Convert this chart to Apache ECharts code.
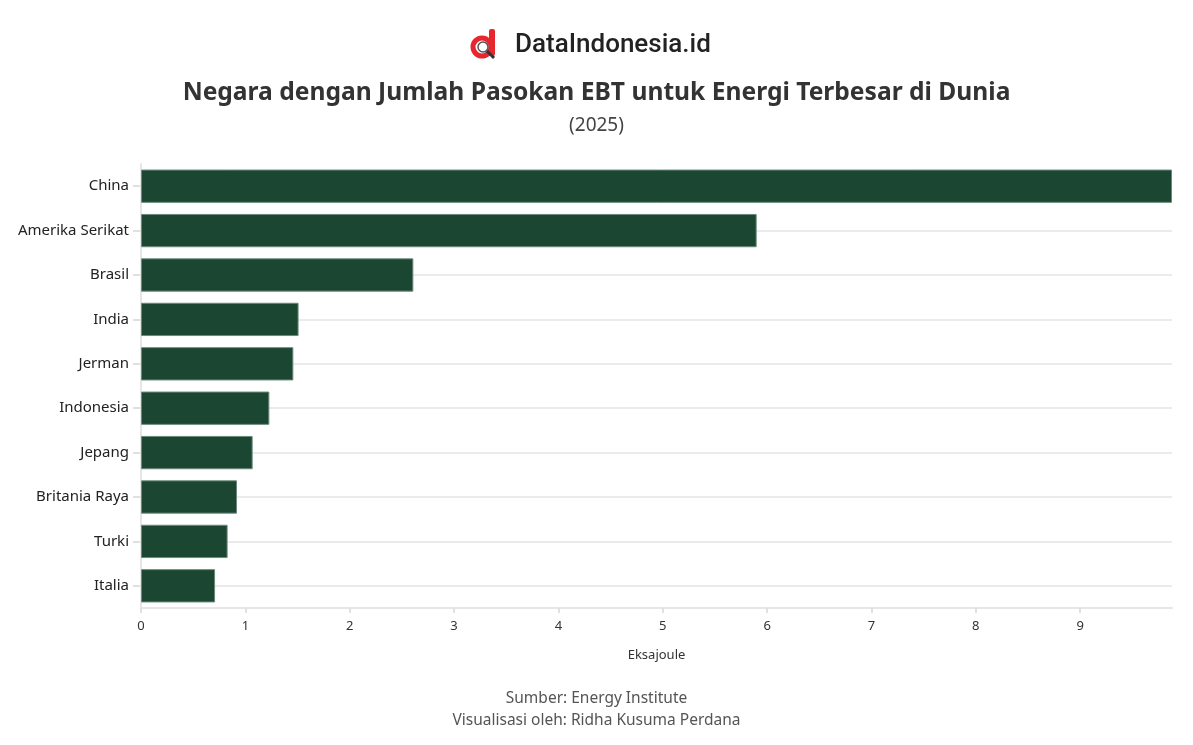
<!DOCTYPE html>
<html>
<head>
<meta charset="utf-8">
<script src="https://cdn.jsdelivr.net/npm/echarts@6/dist/echarts.min.js"></script>
<style>
  html, body { margin: 0; padding: 0; background: #fff; }
  #chart { width: 1193px; height: 745px; }
</style>
</head>
<body>
<div id="chart"></div>
<script>
const countries = ['China', 'Amerika Serikat', 'Brasil', 'India', 'Jerman', 'Indonesia', 'Jepang', 'Britania Raya', 'Turki', 'Italia'];
const supply = [9.88, 5.90, 2.61, 1.51, 1.46, 1.23, 1.07, 0.92, 0.83, 0.71];
const xTicks = [0, 1, 2, 3, 4, 5, 6, 7, 8, 9];

const font = '"Noto Sans", "Open Sans", sans-serif';
const chart = echarts.init(document.getElementById('chart'));

// footer lines, each centred on its own
const footText = (text, top) => ({
  type: 'text', left: 'center', top: top,
  style: { text: text, fontSize: 15.5, fill: '#555', fontFamily: font }
});

chart.setOption({
  backgroundColor: '#fff',
  textStyle: { fontFamily: font },
  title: [
    {
      text: 'Negara dengan Jumlah Pasokan EBT untuk Energi Terbesar di Dunia',
      left: 'center', top: 75,
      textStyle: { fontSize: 24.6, fontWeight: 'bold', color: '#333', fontFamily: font }
    },
    {
      text: '(2025)',
      left: 'center', top: 111,
      textStyle: { fontSize: 19, fontWeight: 'normal', color: '#444', fontFamily: font }
    }
  ],
  graphic: [
    { type: 'circle', shape: { cx: 482, cy: 47, r: 9 }, style: { fill: 'none', stroke: '#e8262d', lineWidth: 5 } },
    { type: 'rect', shape: { x: 489, y: 29, width: 6, height: 27, r: 2 }, style: { fill: '#e8262d' } },
    { type: 'circle', shape: { cx: 483, cy: 47, r: 5 }, style: { fill: '#fff', stroke: '#555', lineWidth: 1.5 } },
    { type: 'line', shape: { x1: 487, y1: 51, x2: 494, y2: 58 }, style: { stroke: '#333', lineWidth: 3 } },
    {
      type: 'text', left: 515, top: 32,
      style: { text: 'DataIndonesia.id', fontSize: 26, fontWeight: 500, fill: '#222', fontFamily: 'Roboto, sans-serif' }
    },
    footText('Sumber: Energy Institute', 691),
    footText('Visualisasi oleh: Ridha Kusuma Perdana', 713)
  ],
  grid: { left: 141, right: 21, top: 164, bottom: 137, containLabel: false },
  xAxis: {
    type: 'value',
    min: 0,
    max: 'dataMax',
    interval: 1,
    name: 'Eksajoule',
    nameLocation: 'middle',
    nameGap: 41,
    nameTextStyle: { fontSize: 13, color: '#333' },
    axisLine: { show: true, lineStyle: { color: '#e6e6e6', width: 2 } },
    axisTick: { show: true, length: 5, customValues: xTicks, lineStyle: { color: '#e0e0e0', width: 2 } },
    axisLabel: { fontSize: 13, color: '#333', margin: 12, customValues: xTicks },
    splitLine: { show: false }
  },
  yAxis: {
    type: 'category',
    data: countries,
    inverse: true,
    axisLine: { show: true, lineStyle: { color: '#e6e6e6', width: 2 } },
    axisTick: { show: true, alignWithLabel: true, length: 8, lineStyle: { color: '#e0e0e0', width: 2 } },
    axisLabel: { fontSize: 15, color: '#222', margin: 12 },
    splitLine: { show: true, alignWithLabel: true, lineStyle: { color: '#ebebeb', width: 2 } }
  },
  series: [{
    type: 'bar',
    data: supply,
    barCategoryGap: '25%',
    itemStyle: { color: '#1b4632', borderColor: '#6b8a7c', borderWidth: 1 },
    silent: true
  }],
  animation: false
});
</script>
</body>
</html>
